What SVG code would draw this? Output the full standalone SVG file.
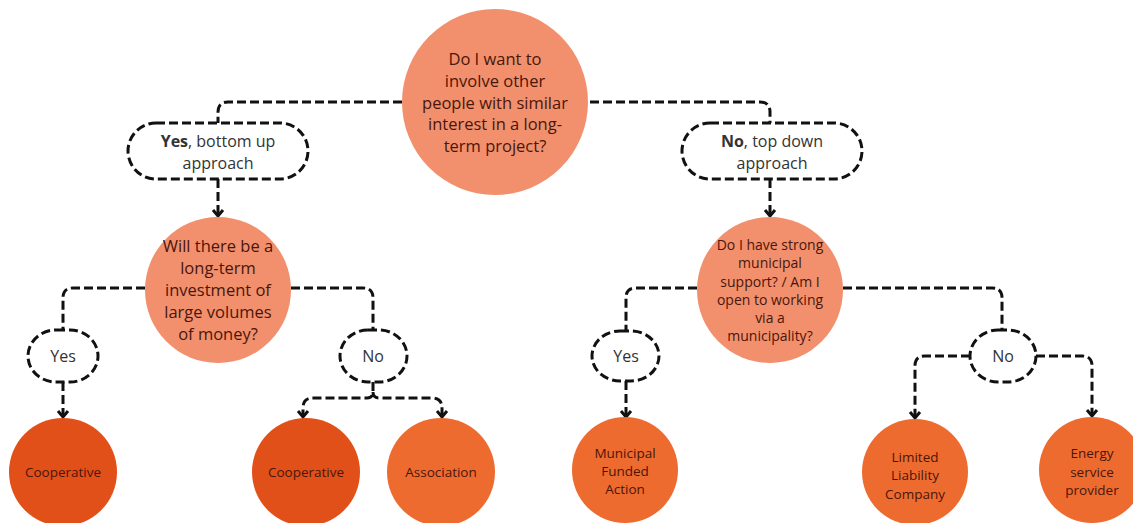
<svg xmlns="http://www.w3.org/2000/svg" width="1133" height="523" viewBox="0 0 1133 523">
<defs>
<style>
.c{stroke:#111;stroke-width:3;fill:none;stroke-dasharray:9 4}
.pill{stroke:#111;stroke-width:3;fill:#fff;stroke-dasharray:9 4}
.q{fill:#F2906D}
.d{fill:#E2501A}
.l{fill:#EE6B30}
.qt{font-family:"Open Sans","Liberation Sans",sans-serif;font-size:16.5px;fill:#4a160a;text-anchor:middle;dominant-baseline:central}
.st{font-family:"Open Sans","Liberation Sans",sans-serif;font-size:14px;fill:#4a160a;text-anchor:middle;dominant-baseline:central}
.lt{font-family:"Open Sans","Liberation Sans",sans-serif;font-size:13.5px;fill:#4a160a;text-anchor:middle;dominant-baseline:central}
.pt{font-family:"Open Sans","Liberation Sans",sans-serif;font-size:16px;fill:#333;text-anchor:middle;dominant-baseline:central}
</style>
<marker id="ah" markerUnits="userSpaceOnUse" markerWidth="14" markerHeight="14" viewBox="0 0 14 14" refX="7" refY="10" orient="0">
<path d="M2,4 L7,10 L12,4" fill="none" stroke="#111" stroke-width="3"/>
</marker>
</defs>
<g id="connectors">
<path class="c" d="M402,102 H228 Q218,102 218,112 V123"/>
<path class="c" d="M590,102 H760 Q770,102 770,112 V123"/>
<path class="c" d="M218,179 V216" marker-end="url(#ah)"/>
<path class="c" d="M770,179 V216" marker-end="url(#ah)"/>
<path class="c" d="M145,288 H73 Q63,288 63,298 V330"/>
<path class="c" d="M291,288 H363 Q373,288 373,298 V330"/>
<path class="c" d="M63,382 V417" marker-end="url(#ah)"/>
<path class="c" d="M373,382 V392 Q373,398 367,398 H313 Q303,398 303,408 V417" marker-end="url(#ah)"/>
<path class="c" d="M373,392 Q373,398 379,398 H432 Q442,398 442,408 V417" marker-end="url(#ah)"/>
<path class="c" d="M697,288 H636 Q626,288 626,298 V331"/>
<path class="c" d="M843,288 H992 Q1002,288 1002,298 V330"/>
<path class="c" d="M626,381 V417" marker-end="url(#ah)"/>
<path class="c" d="M970,356 H925 Q915,356 915,366 V418" marker-end="url(#ah)"/>
<path class="c" d="M1036,356 H1082 Q1092,356 1092,366 V416" marker-end="url(#ah)"/>
</g>
<g id="q1">
<circle class="q" cx="495" cy="102" r="93"/>
<text class="qt" x="495" y="58">Do I want to</text>
<text class="qt" x="495" y="80">involve other</text>
<text class="qt" x="495" y="102">people with similar</text>
<text class="qt" x="495" y="123">interest in a long-</text>
<text class="qt" x="495" y="145">term project?</text>
</g>
<g id="yes1">
<rect class="pill" x="128" y="123" width="180" height="56" rx="28"/>
<text class="pt" x="218" y="141"><tspan font-weight="bold">Yes</tspan>, bottom up</text>
<text class="pt" x="218" y="163">approach</text>
</g>
<g id="no1">
<rect class="pill" x="682" y="123" width="180" height="56" rx="28"/>
<text class="pt" x="772" y="141"><tspan font-weight="bold">No</tspan>, top down</text>
<text class="pt" x="772" y="163">approach</text>
</g>
<g id="q2">
<circle class="q" cx="218" cy="290" r="73"/>
<text class="qt" x="218" y="245">Will there be a</text>
<text class="qt" x="218" y="267">long-term</text>
<text class="qt" x="218" y="289">investment of</text>
<text class="qt" x="218" y="311">large volumes</text>
<text class="qt" x="218" y="333">of money?</text>
</g>
<g id="q3">
<circle class="q" cx="770" cy="290" r="73"/>
<text class="st" x="770" y="244">Do I have strong</text>
<text class="st" x="770" y="262">municipal</text>
<text class="st" x="770" y="281">support? / Am I</text>
<text class="st" x="770" y="299">open to working</text>
<text class="st" x="770" y="317">via a</text>
<text class="st" x="770" y="335">municipality?</text>
</g>
<g id="yes2">
<rect class="pill" x="28" y="330" width="70" height="52" rx="28" ry="26"/>
<text class="pt" x="63" y="356">Yes</text>
</g>
<g id="no2">
<rect class="pill" x="340" y="330" width="67" height="52" rx="28" ry="26"/>
<text class="pt" x="373" y="356">No</text>
</g>
<g id="yes3">
<rect class="pill" x="592" y="331" width="67" height="50" rx="28" ry="25"/>
<text class="pt" x="626" y="356">Yes</text>
</g>
<g id="no3">
<rect class="pill" x="970" y="330" width="66" height="52" rx="28" ry="26"/>
<text class="pt" x="1003" y="356">No</text>
</g>
<g id="coop1">
<circle class="d" cx="63" cy="472" r="54"/>
<text class="lt" x="63" y="472">Cooperative</text>
</g>
<g id="coop2">
<circle class="d" cx="306" cy="472" r="54"/>
<text class="lt" x="306" y="472">Cooperative</text>
</g>
<g id="assoc">
<circle class="l" cx="441" cy="472" r="54"/>
<text class="lt" x="441" y="472">Association</text>
</g>
<g id="municipal">
<circle class="l" cx="625" cy="470" r="53"/>
<text class="lt" x="625" y="453">Municipal</text>
<text class="lt" x="625" y="471">Funded</text>
<text class="lt" x="625" y="489">Action</text>
</g>
<g id="llc">
<circle class="l" cx="915" cy="472" r="53"/>
<text class="lt" x="915" y="457">Limited</text>
<text class="lt" x="915" y="475">Liability</text>
<text class="lt" x="915" y="494">Company</text>
</g>
<g id="esp">
<circle class="l" cx="1092" cy="470" r="53"/>
<text class="lt" x="1092" y="453">Energy</text>
<text class="lt" x="1092" y="472">service</text>
<text class="lt" x="1092" y="490">provider</text>
</g>
</svg>
